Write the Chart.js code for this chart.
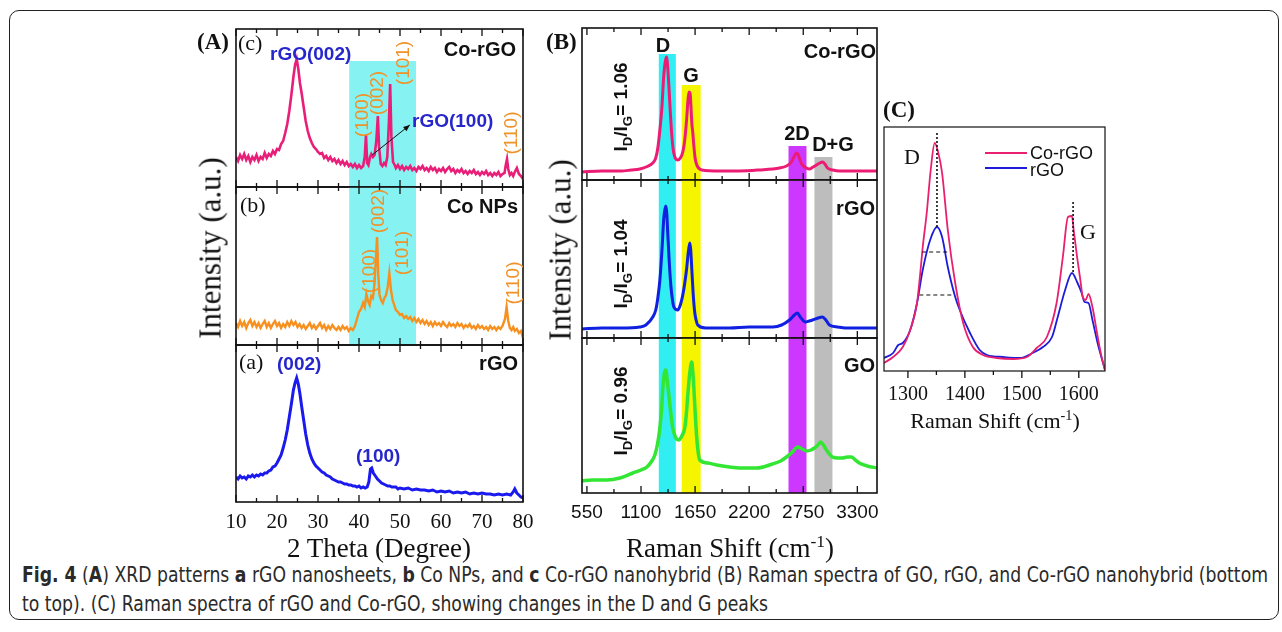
<!DOCTYPE html>
<html>
<head>
<meta charset="utf-8">
<script src="https://cdn.jsdelivr.net/npm/chart.js"></script>
<style>
body { margin: 0; background: #fff; width: 1282px; height: 632px; overflow: hidden; position: relative; }
#frame { position: absolute; left: 9px; top: 10px; width: 1268px; height: 608px; border: 1.5px solid #222; border-radius: 10px; }
canvas { position: absolute; z-index: 1; }
.t { position: absolute; white-space: nowrap; line-height: 1; z-index: 2; }
.serif { font-family: "Liberation Serif", "Times New Roman", serif; color: #111; }
.sans { font-family: "Liberation Sans", Arial, sans-serif; color: #111; }
.b { font-weight: bold; }
.c { transform: translate(-50%, -50%); }
.l { transform: translate(0, -50%); }
.r { transform: translate(-100%, -50%); }
.rot { transform: translate(-50%, -50%) rotate(-90deg); }
.blue { color: #2626cc; font-weight: bold; font-size: 19px; }
.orng { color: #f0922a; font-size: 19px; }
.lbl { font-size: 20px; font-weight: bold; }
.ratio { font-size: 19px; font-weight: bold; }
.ratio sub { font-size: 70%; }
sup { font-size: 65%; }
.cap { position: absolute; left: 22px; white-space: nowrap; font-family: "Liberation Sans Narrow", "DejaVu Sans Condensed", sans-serif; font-size: 21px; color: #2a2a2a; transform-origin: 0 50%; z-index: 2; }
.leg { position: absolute; height: 2px; width: 42px; z-index: 2; }
</style>
</head>
<body>
<div id="frame"></div>

<!-- panel A texts -->
<div class="t serif b l" style="left:197px;top:41px;font-size:23px;">(A)</div>
<div class="t serif l" style="left:238px;top:43px;font-size:22px;">(c)</div>
<div class="t sans blue l" style="left:270px;top:53px;">rGO(002)</div>
<div class="t sans lbl r" style="left:516px;top:49px;">Co-rGO</div>
<div class="t sans orng rot" style="left:361px;top:115px;">(100)</div>
<div class="t sans orng rot" style="left:376px;top:93px;">(002)</div>
<div class="t sans orng rot" style="left:402px;top:63px;">(101)</div>
<div class="t sans orng rot" style="left:510px;top:133px;">(110)</div>
<div class="t sans blue l" style="left:412px;top:120px;">rGO(100)</div>

<div class="t serif l" style="left:240px;top:205px;font-size:22px;">(b)</div>
<div class="t sans lbl r" style="left:518px;top:206px;">Co NPs</div>
<div class="t sans orng rot" style="left:368px;top:271px;">(100)</div>
<div class="t sans orng rot" style="left:377px;top:211px;">(002)</div>
<div class="t sans orng rot" style="left:401px;top:253px;">(101)</div>
<div class="t sans orng rot" style="left:512px;top:283px;">(110)</div>

<div class="t serif l" style="left:239px;top:362px;font-size:22px;">(a)</div>
<div class="t sans blue l" style="left:277px;top:363px;">(002)</div>
<div class="t sans lbl r" style="left:518px;top:363px;">rGO</div>
<div class="t sans blue l" style="left:356px;top:455px;">(100)</div>

<div class="t serif rot" style="left:210px;top:248px;font-size:31px;">Intensity (a.u.)</div>
<div class="t serif c" style="left:379px;top:548px;font-size:27px;">2 Theta (Degree)</div>

<!-- panel B texts -->
<div class="t serif b l" style="left:546px;top:41px;font-size:23px;">(B)</div>
<div class="t sans lbl c" style="left:663px;top:45px;">D</div>
<div class="t sans lbl c" style="left:691px;top:75px;">G</div>
<div class="t sans lbl c" style="left:797px;top:133px;">2D</div>
<div class="t sans lbl c" style="left:833px;top:144px;">D+G</div>
<div class="t sans lbl r" style="left:876px;top:51px;">Co-rGO</div>
<div class="t sans lbl r" style="left:875px;top:208px;">rGO</div>
<div class="t sans lbl r" style="left:875px;top:365px;">GO</div>
<div class="t sans ratio rot" style="left:623px;top:107px;">I<sub>D</sub>/I<sub>G</sub>= 1.06</div>
<div class="t sans ratio rot" style="left:623px;top:264px;">I<sub>D</sub>/I<sub>G</sub>= 1.04</div>
<div class="t sans ratio rot" style="left:623px;top:411px;">I<sub>D</sub>/I<sub>G</sub>= 0.96</div>
<div class="t serif rot" style="left:560px;top:250px;font-size:31px;">Intensity (a.u.)</div>
<div class="t serif c" style="left:730px;top:547px;font-size:27px;">Raman Shift (cm<sup>-1</sup>)</div>

<!-- panel C texts -->
<div class="t serif b l" style="left:883px;top:109px;font-size:23px;">(C)</div>
<div class="t serif l" style="left:904px;top:157px;font-size:22px;">D</div>
<div class="t serif l" style="left:1080px;top:232px;font-size:22px;">G</div>
<div class="leg" style="left:985px;top:152px;background:#e8206f;"></div>
<div class="leg" style="left:985px;top:167px;background:#1c1cd8;"></div>
<div class="t sans l" style="left:1030px;top:153px;font-size:18px;">Co-rGO</div>
<div class="t sans l" style="left:1030px;top:170px;font-size:18px;">rGO</div>
<div class="t serif c" style="left:995px;top:420px;font-size:22px;">Raman Shift (cm<sup>-1</sup>)</div>

<div class="cap" id="cap1" style="top:575px;"><b>Fig. 4</b> (<b>A</b>) XRD patterns <b>a</b> rGO nanosheets, <b>b</b> Co NPs, and <b>c</b> Co-rGO nanohybrid (B) Raman spectra of GO, rGO, and Co-rGO nanohybrid (bottom</div>
<div class="cap" id="cap2" style="top:604px;">to top). (C) Raman spectra of rGO and Co-rGO, showing changes in the D and G peaks</div>

<script>
// tick labels
const xrdTicks = [10, 20, 30, 40, 50, 60, 70, 80];
const ramanTicks = [550, 1100, 1650, 2200, 2750, 3300];
const shiftTicks = [1300, 1400, 1500, 1600];

// XRD patterns [2theta, intensity]
const xrdCoRGO = [[10,30],[10.5,26],[11,32],[11.5,28],[12,33],[12.5,27],[13,31],[13.5,25],[14,30],[14.5,27],[15,32],[15.5,26],[16,30],[16.5,28],[17,34],[17.5,29],[18,33],[18.5,31],[19,36],[19.5,33],[20,38],[20.5,37],[21,43],[21.5,46],[22,54],[22.5,63],[23,76],[23.5,92],[24,110],[24.4,122],[24.8,128],[25.2,118],[25.6,104],[26,94],[26.5,80],[27,66],[27.5,56],[28,49],[28.5,44],[29,40],[29.5,38],[30,35],[30.5,33],[31,34],[31.5,29],[32,31],[32.5,27],[33,30],[33.5,26],[34,28],[34.5,24],[35,27],[35.5,23],[36,26],[36.5,22],[37,25],[37.5,21],[38,23],[38.5,20],[39,23],[39.5,19],[40,22],[40.5,19],[41,21],[41.4,30],[41.7,52],[42,24],[42.3,22],[42.7,30],[43,33],[43.4,30],[43.8,32],[44.2,45],[44.6,71],[44.9,40],[45.3,23],[45.7,21],[46.1,24],[46.5,22],[46.9,30],[47.3,65],[47.6,103],[47.9,50],[48.3,25],[48.7,22],[49,19],[49.5,22],[50,18],[50.5,21],[51,17],[51.5,20],[52,18],[52.5,21],[53,17],[53.5,19],[54,16],[54.5,20],[55,18],[55.5,21],[56,17],[56.5,19],[57,16],[57.5,20],[58,17],[58.5,19],[59,15],[59.5,18],[60,16],[60.5,19],[61,15],[61.5,18],[62,20],[62.5,16],[63,18],[63.5,14],[64,17],[64.5,15],[65,18],[65.5,14],[66,16],[66.5,13],[67,16],[67.5,14],[68,17],[68.5,13],[69,15],[69.5,12],[70,15],[70.5,13],[71,16],[71.5,12],[72,14],[72.5,11],[73,14],[73.5,12],[74,15],[74.5,11],[75,13],[75.5,14],[75.8,22],[76.1,28],[76.4,18],[76.8,12],[77.2,14],[77.6,11],[78,15],[78.5,19],[79,13],[79.5,11],[80,8]];
const xrdCoNPs = [[10,22],[10.5,18],[11,24],[11.5,19],[12,23],[12.5,17],[13,22],[13.5,25],[14,19],[14.5,23],[15,18],[15.5,22],[16,17],[16.5,21],[17,24],[17.5,18],[18,22],[18.5,17],[19,21],[19.5,24],[20,19],[20.5,22],[21,17],[21.5,21],[22,18],[22.5,23],[23,19],[23.5,24],[24,20],[24.5,23],[25,18],[25.5,21],[26,17],[26.5,20],[27,16],[27.5,19],[28,22],[28.5,17],[29,20],[29.5,16],[30,19],[30.5,22],[31,17],[31.5,20],[32,15],[32.5,19],[33,16],[33.5,20],[34,17],[34.5,15],[35,18],[35.5,15],[36,19],[36.5,16],[37,18],[37.5,14],[38,17],[38.5,15],[39,19],[39.5,26],[40,33],[40.5,36],[41,42],[41.4,38],[41.8,51],[42.2,44],[42.6,40],[43,49],[43.4,47],[43.8,62],[44.1,85],[44.4,108],[44.7,70],[45,50],[45.4,45],[45.8,42],[46.2,47],[46.6,50],[47,58],[47.4,72],[47.8,55],[48.2,45],[48.6,40],[49,35],[49.5,33],[50,30],[50.5,31],[51,27],[51.5,29],[52,26],[52.5,28],[53,24],[53.5,27],[54,23],[54.5,26],[55,22],[55.5,25],[56,21],[56.5,24],[57,20],[57.5,23],[58,19],[58.5,23],[59,20],[59.5,22],[60,19],[60.5,23],[61,20],[61.5,18],[62,22],[62.5,19],[63,21],[63.5,18],[64,22],[64.5,19],[65,21],[65.5,17],[66,20],[66.5,18],[67,21],[67.5,17],[68,19],[68.5,16],[69,20],[69.5,17],[70,19],[70.5,16],[71,18],[71.5,15],[72,19],[72.5,16],[73,18],[73.5,15],[74,18],[74.5,16],[75,19],[75.6,26],[76,38],[76.4,24],[76.8,17],[77.2,15],[77.6,18],[78,14],[78.5,16],[79,12],[79.5,14],[80,7]];
const xrdRGO = [[10,25],[10.5,23],[11,26],[11.5,24],[12,25],[12.5,23],[13,26],[13.5,25],[14,27],[14.5,25],[15,27],[15.5,26],[16,28],[16.5,27],[17,29],[17.5,29],[18,31],[18.5,32],[19,35],[19.5,36],[20,39],[20.5,43],[21,47],[21.5,54],[22,62],[22.5,72],[23,85],[23.5,98],[24,112],[24.4,119],[24.8,124],[25.2,118],[25.6,108],[26,96],[26.5,82],[27,68],[27.5,57],[28,49],[28.5,43],[29,39],[29.5,36],[30,34],[30.5,32],[31,30],[31.5,29],[32,27],[32.5,26],[33,25],[33.5,23],[34,22],[34.5,21],[35,20],[35.5,20],[36,19],[36.5,18],[37,18],[37.5,17],[38,17],[38.5,16],[39,16],[39.5,15],[40,16],[40.5,14],[41,15],[41.5,14],[42,15],[42.4,20],[42.8,33],[43.1,34],[43.5,29],[44,26],[44.5,23],[45,21],[45.5,19],[46,18],[46.5,17],[47,16],[47.5,16],[48,15],[49,15],[49.5,13],[50,14],[51,13],[52,14],[53,12],[54,13],[55,12],[56,12],[57,11],[58,12],[59,10],[60,11],[61,10],[62,11],[63,9],[64,10],[65,9],[66,10],[67,8],[68,9],[69,8],[70,9],[71,8],[72,8],[73,7],[74,8],[75,7],[76,8],[77,7],[77.6,10],[78,13],[78.5,9],[79,7],[79.5,5],[80,4]];
const xrdBandFrom = 37.6, xrdBandTo = 53.9, xrdBandTopC = 126;
const arrowFrom = [43.2, 32], arrowTo = [52.4, 62];

// Raman spectra [cm-1, intensity]
const ramanCoRGO = [[500,8],[700,9],[900,9],[1000,10],[1088,11],[1150,13],[1220,17],[1250,22],[1271,32],[1292,50],[1312,72],[1332,105],[1350,120],[1362,123],[1372,112],[1383,95],[1398,68],[1413,45],[1428,30],[1444,23],[1474,20],[1500,22],[1525,28],[1545,40],[1565,62],[1578,80],[1588,88],[1600,86],[1610,70],[1618,55],[1626,48],[1636,36],[1650,22],[1667,15],[1717,10],[1900,9],[2103,9],[2300,10],[2509,12],[2580,14],[2630,18],[2660,24],[2681,27],[2700,25],[2720,19],[2742,15],[2780,12],[2813,11],[2850,13],[2884,15],[2920,17],[2945,18],[2970,16],[2996,12],[3050,10],[3117,9],[3300,9],[3500,9]];
const ramanRGO = [[500,9],[700,10],[900,10],[1088,11],[1150,13],[1220,21],[1250,28],[1271,40],[1292,58],[1312,86],[1332,120],[1352,132],[1362,125],[1373,103],[1388,75],[1403,53],[1420,38],[1434,31],[1474,28],[1500,33],[1525,43],[1545,55],[1565,70],[1580,85],[1596,95],[1606,88],[1616,70],[1630,45],[1646,26],[1660,18],[1677,13],[1758,10],[2000,10],[2200,11],[2442,11],[2530,13],[2610,18],[2660,23],[2690,25],[2720,21],[2772,16],[2810,17],[2844,18],[2900,20],[2945,21],[2980,18],[3016,13],[3100,11],[3178,10],[3350,10],[3500,10]];
const ramanGO = [[500,12],[600,13],[753,13],[886,15],[1018,20],[1100,23],[1160,26],[1210,32],[1241,38],[1270,50],[1292,65],[1310,85],[1322,105],[1338,120],[1352,123],[1367,112],[1383,98],[1403,80],[1423,65],[1450,56],[1484,53],[1515,57],[1545,65],[1562,80],[1576,98],[1596,120],[1616,131],[1626,122],[1636,108],[1650,82],[1667,55],[1680,42],[1697,33],[1780,30],[1869,28],[2000,26],[2103,25],[2275,25],[2437,29],[2520,32],[2580,36],[2640,41],[2691,46],[2740,44],[2782,42],[2830,43],[2864,45],[2900,48],[2925,51],[2955,48],[2986,43],[3047,36],[3100,35],[3148,35],[3200,36],[3239,36],[3280,33],[3320,30],[3400,27],[3500,25]];
const ramanBandFrom = [1281, 1514, 2600, 2864];
const ramanBandTo = [1454, 1707, 2783, 3047];
const ramanBandTop = [126, 95, 34, 23];

// D and G region close-up
const shiftCoRGO = [[1258,8],[1274,14],[1291,24],[1304,41],[1316,68],[1321,94],[1326,124],[1333,158],[1340,201],[1347,228],[1353,219],[1360,198],[1370,141],[1383,88],[1397,48],[1414,24],[1432,16],[1456,13],[1485,12],[1509,14],[1526,23],[1544,34],[1561,68],[1572,114],[1581,154],[1588,155],[1591,141],[1597,114],[1602,94],[1607,74],[1612,71],[1617,77],[1624,64],[1632,38],[1640,14],[1646,1]];
const shiftRGO = [[1258,13],[1274,18],[1283,26],[1291,28],[1304,41],[1316,68],[1326,101],[1339,131],[1351,144],[1360,134],[1370,104],[1383,74],[1391,61],[1409,38],[1426,21],[1439,16],[1467,14],[1497,13],[1519,18],[1537,24],[1553,34],[1563,54],[1576,81],[1588,98],[1597,89],[1605,78],[1610,69],[1617,68],[1624,51],[1633,28],[1646,1]];
const peakX = [1351, 1590];
const peakTop = [238, 169];
const peakBottom = [144, 98];
const halfY = [119, 76];
const halfFrom = [1325, 1320];
const halfTo = [1370, 1379];

const SERIF = '"Liberation Serif", "Times New Roman", serif';
const SANS = '"Liberation Sans", Arial, sans-serif';
const PADX = 34, PADY = 6;

function decor(d, sc) {
    return {
        id: 'decor',
        beforeDatasetsDraw(chart) {
            const { ctx, chartArea: a, scales: { x, y } } = chart;
            ctx.save();
            (d.bands || []).forEach(b => {
                const x0 = x.getPixelForValue(b.from);
                const x1 = x.getPixelForValue(b.to);
                const top = b.top == null ? a.top : y.getPixelForValue(b.top);
                ctx.fillStyle = b.color;
                ctx.fillRect(x0, top, x1 - x0, a.bottom - top);
            });
            ctx.restore();
        },
        afterDatasetsDraw(chart) {
            const { ctx, chartArea: a, scales: { x, y } } = chart;
            ctx.save();
            ctx.strokeStyle = '#111';
            ctx.lineWidth = 1.3;
            // major and minor ticks
            const vals = [];
            for (let v = sc.first; v >= sc.min - 1e-6; v -= sc.minor) vals.push(v);
            for (let v = sc.first + sc.minor; v <= sc.max + 1e-6; v += sc.minor) vals.push(v);
            vals.forEach(v => {
                const px = x.getPixelForValue(v);
                const major = Math.abs(Math.round((v - sc.first) / sc.minor)) % 2 === 0;
                const len = major ? 7 : 4;
                ctx.beginPath();
                if (d.outward) {
                    ctx.moveTo(px, a.bottom); ctx.lineTo(px, a.bottom + len);
                } else {
                    ctx.moveTo(px, a.bottom); ctx.lineTo(px, a.bottom - len);
                    ctx.moveTo(px, a.top); ctx.lineTo(px, a.top + len);
                }
                ctx.stroke();
            });
            ctx.lineWidth = d.frameW || 1.6;
            ctx.strokeRect(a.left, a.top, a.width, a.height);

            if (d.arrow) {
                const x0 = x.getPixelForValue(d.arrow[0][0]), y0 = y.getPixelForValue(d.arrow[0][1]);
                const x1 = x.getPixelForValue(d.arrow[1][0]), y1 = y.getPixelForValue(d.arrow[1][1]);
                const ang = Math.atan2(y1 - y0, x1 - x0);
                ctx.lineWidth = 1;
                ctx.beginPath(); ctx.moveTo(x0, y0); ctx.lineTo(x1, y1); ctx.stroke();
                ctx.fillStyle = '#111';
                ctx.beginPath();
                ctx.moveTo(x1, y1);
                ctx.lineTo(x1 - 7 * Math.cos(ang - 0.4), y1 - 7 * Math.sin(ang - 0.4));
                ctx.lineTo(x1 - 7 * Math.cos(ang + 0.4), y1 - 7 * Math.sin(ang + 0.4));
                ctx.closePath(); ctx.fill();
            }
            if (d.peaks) {
                ctx.lineWidth = 1.6;
                ctx.setLineDash([2, 2]);
                peakX.forEach((v, i) => {
                    ctx.beginPath();
                    ctx.moveTo(x.getPixelForValue(v), y.getPixelForValue(peakTop[i]));
                    ctx.lineTo(x.getPixelForValue(v), y.getPixelForValue(peakBottom[i]));
                    ctx.stroke();
                });
                ctx.lineWidth = 1.2;
                ctx.setLineDash([4, 3]);
                halfY.forEach((v, i) => {
                    ctx.beginPath();
                    ctx.moveTo(x.getPixelForValue(halfFrom[i]), y.getPixelForValue(v));
                    ctx.lineTo(x.getPixelForValue(halfTo[i]), y.getPixelForValue(v));
                    ctx.stroke();
                });
            }
            ctx.restore();
        }
    };
}

function makeChart(box, axisH, series, sc, d) {
    const cv = document.createElement('canvas');
    cv.width = box.w + 2 * PADX;
    cv.height = box.h + 2 * PADY + axisH;
    cv.style.left = (box.x - PADX) + 'px';
    cv.style.top = (box.y - PADY) + 'px';
    document.body.appendChild(cv);
    return new Chart(cv, {
        type: 'line',
        data: {
            datasets: series.map(s => ({
                data: s.data.map(p => ({ x: p[0], y: p[1] })),
                borderColor: s.color,
                borderWidth: s.width,
                pointRadius: 0,
                tension: 0,
                cubicInterpolationMode: s.smooth ? 'monotone' : 'default',
                fill: false
            }))
        },
        options: {
            responsive: false,
            animation: false,
            events: [],
            layout: { padding: { left: PADX, right: PADX, top: PADY, bottom: PADY } },
            plugins: { legend: { display: false }, tooltip: { enabled: false } },
            scales: {
                x: {
                    type: 'linear', min: sc.min, max: sc.max,
                    display: axisH > 0,
                    grid: { display: false, drawTicks: false },
                    border: { display: false },
                    afterBuildTicks: ax => { ax.ticks = sc.labels.map(v => ({ value: v })); },
                    afterFit: ax => { ax.height = axisH; },
                    ticks: { font: sc.font, color: '#111', padding: sc.pad, maxRotation: 0, autoSkip: false,
                             callback: v => String(v) }
                },
                y: { type: 'linear', min: 0, max: sc.ymax, display: false }
            }
        },
        plugins: [decor(d, sc)]
    });
}

// panel A: XRD
const xrdScale = (ymax, lab) => ({ min: 10, max: 80, first: 10, minor: 5, labels: lab ? xrdTicks : [], ymax: ymax,
    font: { family: SERIF, size: 21 }, pad: 8 });
makeChart({ x: 236, y: 29, w: 287, h: 158 }, 0,
    [{ data: xrdCoRGO, color: '#e91e78', width: 2.6 }], xrdScale(158),
    { bands: [{ from: xrdBandFrom, to: xrdBandTo, top: xrdBandTopC, color: '#86f2f2' }], arrow: [arrowFrom, arrowTo] });
makeChart({ x: 236, y: 187, w: 287, h: 158 }, 0,
    [{ data: xrdCoNPs, color: '#f7901e', width: 2.4 }], xrdScale(158),
    { bands: [{ from: xrdBandFrom, to: xrdBandTo, color: '#86f2f2' }] });
makeChart({ x: 236, y: 345, w: 287, h: 157 }, 40,
    [{ data: xrdRGO, color: '#1a1aee', width: 3 }], xrdScale(157, true), {});

// panel B: Raman
const bandColors = ['#30eef2', '#f5f500', '#cc38ff', '#bdbdbd'];
const ramanScale = (ymax, lab) => ({ min: 500, max: 3500, first: 550, minor: 275, labels: lab ? ramanTicks : [], ymax: ymax,
    font: { family: SANS, size: 19 }, pad: 8 });
const bands = withTop => ramanBandFrom.map((f, i) => ({ from: f, to: ramanBandTo[i], top: withTop ? ramanBandTop[i] : null, color: bandColors[i] }));
makeChart({ x: 582, y: 28, w: 295, h: 152 }, 0,
    [{ data: ramanCoRGO, color: '#ec1c74', width: 3, smooth: true }], ramanScale(152), { bands: bands(true) });
makeChart({ x: 582, y: 180, w: 295, h: 158 }, 0,
    [{ data: ramanRGO, color: '#1020e0', width: 3, smooth: true }], ramanScale(158), { bands: bands(false) });
makeChart({ x: 582, y: 338, w: 295, h: 155 }, 40,
    [{ data: ramanGO, color: '#33e633', width: 3.5, smooth: true }], ramanScale(155, true), { bands: bands(false) });

// panel C: D and G peaks
makeChart({ x: 884, y: 127, w: 221, h: 244 }, 40,
    [{ data: shiftCoRGO, color: '#e8206f', width: 1.8, smooth: true },
     { data: shiftRGO, color: '#1c1cd8', width: 1.8, smooth: true }],
    { min: 1258, max: 1646, first: 1300, minor: 50, labels: shiftTicks, ymax: 244,
      font: { family: SERIF, size: 20 }, pad: 12 },
    { outward: true, frameW: 1.2, peaks: true });

function fitCaption() {
    const l1 = document.getElementById('cap1');
    l1.style.transform = 'none';
    const s = 1246 / l1.getBoundingClientRect().width;
    ['cap1', 'cap2'].forEach(id => {
        document.getElementById(id).style.transform = 'translateY(-50%) scaleX(' + s + ')';
    });
}
fitCaption();
if (document.fonts) document.fonts.ready.then(fitCaption);
</script>
</body>
</html>
